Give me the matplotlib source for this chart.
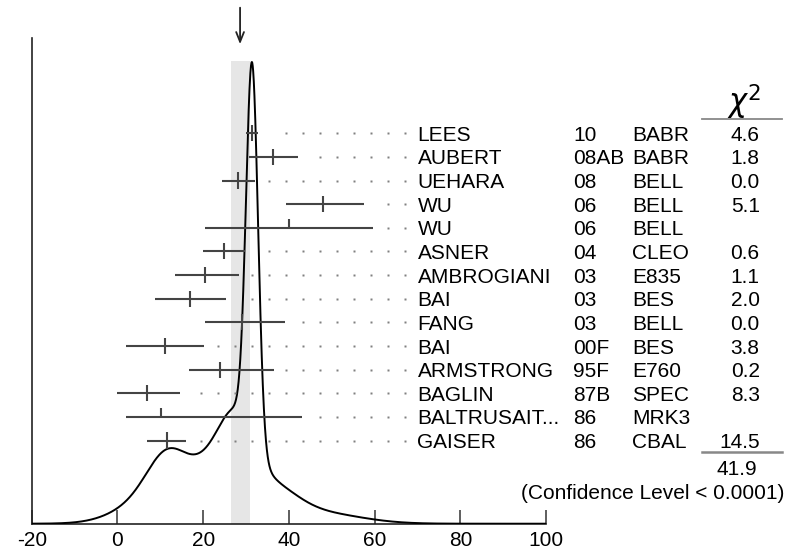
import numpy as np
import matplotlib.pyplot as plt

plt.rcParams["font.family"] = ["Liberation Sans", "DejaVu Sans"]
plt.rcParams["mathtext.fontset"] = "dejavusans"
plt.rcParams["axes.unicode_minus"] = False

# eta_c(1S) width measurements (MeV), combined errors
names = ["LEES", "AUBERT", "UEHARA", "WU", "WU", "ASNER", "AMBROGIANI", "BAI",
         "FANG", "BAI", "ARMSTRONG", "BAGLIN", "BALTRUSAIT...", "GAISER"]
years = ["10", "08AB", "08", "06", "06", "04", "03", "03", "03", "00F", "95F",
         "87B", "86", "86"]
experiments = ["BABR", "BABR", "BELL", "BELL", "BELL", "CLEO", "E835", "BES",
               "BELL", "BES", "E760", "SPEC", "MRK3", "CBAL"]
values = [31.4, 36.3, 28.1, 48.0, 40.0, 24.8, 20.4, 17.0, 29.0, 11.0, 23.9,
          7.0, 10.1, 11.5]
err_lo = [1.4, 5.7, 3.8, 8.6, 19.6, 4.9, 7.0, 8.3, 8.5, 9.1, 7.1, 7.0, 8.2, 4.5]
err_hi = [1.4, 5.7, 3.9, 9.4, 19.6, 4.9, 8.0, 8.3, 10.0, 9.1, 12.6, 7.5, 33.0, 4.5]
chi2 = ["4.6", "1.8", "0.0", "5.1", "", "0.6", "1.1", "2.0", "0.0", "3.8",
        "0.2", "8.3", "", "14.5"]
chi2_total = "41.9"
conf_level = "(Confidence Level < 0.0001)"
avg, avg_err = 28.6, 2.2

FS = 15
xlo, xhi = -20, 100

# ideogram: bifurcated gaussians, area ~ 1/sigma, only measurements in the fit
x = np.linspace(xlo, xhi, 2401)
ideo = np.zeros_like(x)
for v, lo, hi, c in zip(values, err_lo, err_hi, chi2):
    if not c:
        continue
    s = np.where(x < v, lo, hi)
    sbar = 0.5 * (lo + hi)
    ideo += np.exp(-0.5 * ((x - v) / s) ** 2) / sbar ** 2

fig = plt.figure(figsize=(7.88, 5.53), dpi=100)
pos = [31.7 / 788, 29.3 / 553, 514.5 / 788, 485.7 / 553]
ax = fig.add_axes(pos)
ax.plot(x, ideo, color="black", lw=1.4, zorder=3)
ax.set_xlim(xlo, xhi)
ax.set_ylim(0, ideo.max() / 0.9506)
ax.axvspan(avg - avg_err, avg + avg_err, ymin=0, ymax=0.9526,
           color="#e6e6e6", lw=0, zorder=0)
for side in ("top", "right"):
    ax.spines[side].set_visible(False)
for side in ("left", "bottom"):
    ax.spines[side].set_linewidth(1.2)
    ax.spines[side].set_color("#222222")
ax.set_xticks([-20, 0, 20, 40, 60, 80, 100])
ax.set_yticks([])
ax.tick_params(axis="x", direction="in", length=10, width=1.1,
               color="#333333", labelsize=FS, pad=5)

# overlay with one unit per measurement row
rax = fig.add_axes(pos, frameon=False)
rax.set_xlim(xlo, xhi)
rax.set_ylim(16.52, -4.03)
rax.axis("off")

dot_x = 67.05 - 3.96 * np.arange(0, 25)
for i, (v, lo, hi, c) in enumerate(zip(values, err_lo, err_hi, chi2)):
    rax.hlines(i, v - lo, v + hi, color="#444444", lw=1.5, zorder=4)
    if c:
        rax.vlines(v, i - 0.34, i + 0.34, color="#444444", lw=1.5, zorder=4)
    else:
        rax.vlines(v, i - 0.36, i, color="#444444", lw=1.5, zorder=4)
    xs = dot_x[dot_x > v + hi + 2.7]
    rax.plot(xs, [i] * len(xs), ls="none", marker="s", ms=1.7,
             color="#808080", mec="none")
    rax.text(69.98, i + 0.32, names[i], ha="left", va="baseline", fontsize=FS)
    rax.text(106.3, i + 0.32, years[i], ha="left", va="baseline", fontsize=FS)
    rax.text(120.05, i + 0.32, experiments[i], ha="left", va="baseline",
             fontsize=FS)
    rax.text(149.8, i + 0.32, c, ha="right", va="baseline", fontsize=FS)

rax.text(150.2, -1.32, r"$\chi^2$", ha="right", va="center", fontsize=22)
rax.plot([136.4, 155.1], [-0.59, -0.59], color="#888888", lw=1.3, clip_on=False)
rax.plot([136.4, 155.1], [13.5, 13.5], color="#888888", lw=1.8, clip_on=False)
rax.text(149.3, 14.46, chi2_total, ha="right", va="baseline", fontsize=FS)
rax.text(155.6, 15.48, conf_level, ha="right", va="baseline", fontsize=FS)

rax.annotate("", xy=(avg, -3.65), xytext=(avg, -5.43),
             arrowprops=dict(arrowstyle="->,head_length=0.7,head_width=0.28",
                             lw=1.3, color="#222222"),
             annotation_clip=False)

fig.savefig("out.png", dpi=100)
